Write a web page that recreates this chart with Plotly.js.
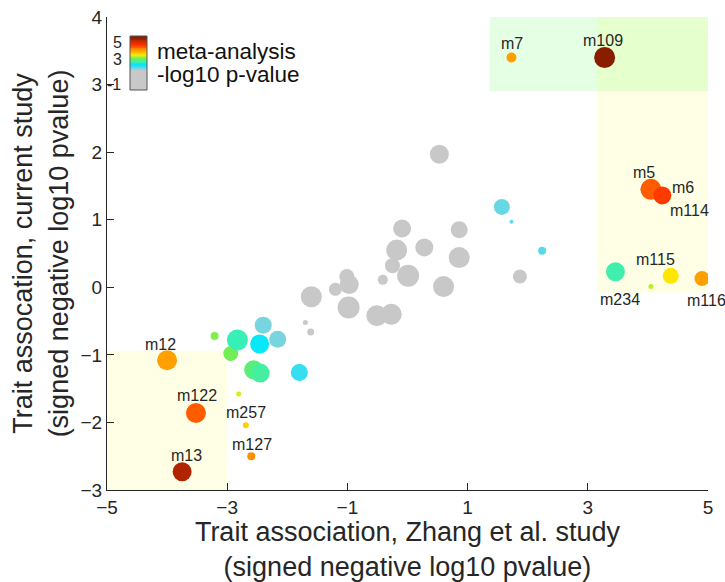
<!DOCTYPE html>
<html>
<head>
<meta charset="utf-8">
<script src="https://cdn.plot.ly/plotly-3.0.1.min.js"></script>
<style>html,body{margin:0;padding:0;background:#fff;}#chart{width:725px;height:582px;}</style>
</head>
<body>
<div id="chart"></div>
<script>
// ---- data ----
const pointNames = ["","","","","","","","","","","","","","","","","","","","",
  "","","","","","","","","","","","","","m257","m127","m12","m122","m13","m7","m109","m5","m6","m234","m115","","m116"];
const zhangX = [0.53,1.87,-0.09,0.86,-0.18,0.28,0.86,-0.25,0.01,-0.41,0.60,-1.01,-0.97,-1.20,-1.60,-0.98,-0.51,-0.27,-1.70,-1.61,
  1.57,1.73,2.24,-2.40,-3.21,-2.94,-2.83,-2.46,-2.16,-2.56,-2.45,-1.80,-2.81,-2.69,-2.60,-4.00,-3.52,-3.75,1.73,3.28,4.05,4.24,3.46,4.38,4.05,4.90];
const currentY = [1.97,0.16,0.87,0.85,0.55,0.59,0.44,0.32,0.17,0.11,0.01,0.16,0.04,-0.03,-0.14,-0.30,-0.42,-0.40,-0.52,-0.66,
  1.19,0.97,0.54,-0.56,-0.72,-0.98,-0.78,-0.84,-0.77,-1.22,-1.27,-1.26,-1.58,-2.04,-2.50,-1.08,-1.86,-2.73,3.40,3.40,1.45,1.36,0.23,0.17,0.01,0.13];
const bubbleSize = [19,14,18,17,21,18,21,15,22,10,21,15,19,13,21,22,21,21,5,7,
  16,4,8,17,8,15,21,19,17,19,19,17,5,6,8,20,20,19,10,21,21,18,19,16,5,15];
const metaP = [0.5,0.5,0.5,0.5,0.5,0.5,0.5,0.5,0.5,0.5,0.5,0.5,0.5,0.5,0.5,0.5,0.5,0.5,0.5,0.5,
  1.45,1.45,1.5,1.4,2.55,2.5,2.1,1.8,1.4,2.35,2.2,1.6,2.8,3.1,3.5,3.4,3.8,4.6,3.4,4.9,3.8,4.0,2.15,2.95,2.7,3.4];
// extra label that shares the m6 position
const extraLabels = ["m114"];
const cbTicks = ["5","3","-1"];
const legendLines = ["meta-analysis","-log10 p-value"];
const cbValues = [];
for (let v = -1; v <= 5.0001; v += 0.1) cbValues.push(Math.round(v*10)/10);

// ---- styles ----
const FONT = "Liberation Sans, Arial, Helvetica, sans-serif";
const TXT = "#262626";
const cscale = [[0,'#c8c8c8'],[0.36,'#c8c8c8'],[0.46,'#00e6ff'],[0.52,'#3cefb4'],[0.58,'#6aee5a'],
  [0.65,'#ffee00'],[0.74,'#ff9900'],[0.84,'#ff3300'],[1,'#7a1a00']];
const labelShift = {m257:[0,13], m127:[1,12], m12:[-7,16], m122:[1,17], m13:[4,16], m7:[1,14],
  m109:[-2,17], m5:[-7,17], m6:[21,8], m234:[5,-28], m115:[-15,16], m116:[5,-22]};

const scatter = {
  type: 'scatter', mode: 'markers', x: zhangX, y: currentY, text: pointNames,
  hoverinfo: 'x+y+text', showlegend: false,
  marker: {size: bubbleSize, sizemode: 'diameter', color: metaP, colorscale: cscale,
    cmin: -1, cmax: 5, showscale: false, opacity: 1, line: {width: 0}}
};
const cbar = {
  type: 'heatmap', x: [0], y: cbValues, z: cbValues.map(v => [v]),
  colorscale: cscale, zmin: -1, zmax: 5, showscale: false, hoverinfo: 'skip',
  xaxis: 'x2', yaxis: 'y2'
};

const annotations = [];
pointNames.forEach((n, i) => {
  if (!n) return;
  const s = labelShift[n] || [0, 14];
  annotations.push({x: zhangX[i], y: currentY[i], xref: 'x', yref: 'y', text: n, showarrow: false,
    xanchor: 'center', yanchor: 'middle',
    xshift: s[0], yshift: s[1], font: {family: FONT, size: 16, color: TXT}});
});
const m6i = pointNames.indexOf('m6');
annotations.push({x: zhangX[m6i], y: currentY[m6i], xref: 'x', yref: 'y', text: extraLabels[0], showarrow: false,
  xanchor: 'center', yanchor: 'middle',
  xshift: 27, yshift: -15, font: {family: FONT, size: 16, color: TXT}});
// colorbar tick labels
const cbLabelPos = [[117, 42], [117, 59], [114, 84]];
const px2x = p => (p - 107) / 601, px2y = p => (490 - p) / 473;
cbTicks.forEach((t, i) => annotations.push({x: px2x(cbLabelPos[i][0]), y: px2y(cbLabelPos[i][1]), xref: 'paper', yref: 'paper',
  xanchor: 'center', yanchor: 'middle',
  text: t, showarrow: false, font: {family: FONT, size: 16, color: TXT}}));
const legPos = [[155, 52], [155, 74]];
legendLines.forEach((t, i) => annotations.push({x: px2x(legPos[i][0]), y: px2y(legPos[i][1]), xref: 'paper', yref: 'paper',
  text: t, showarrow: false, xanchor: 'left', yanchor: 'middle', font: {family: FONT, size: 22.5, color: '#111'}}));

const shapes = [
  {type: 'rect', xref: 'x', yref: 'y', x0: 3.15, x1: 5, y0: -0.08, y1: 4, fillcolor: 'rgba(255,255,0,0.1)', line: {width: 0}, layer: 'below'},
  {type: 'rect', xref: 'x', yref: 'y', x0: 1.37, x1: 5, y0: 2.9, y1: 4, fillcolor: 'rgba(0,255,0,0.1)', line: {width: 0}, layer: 'below'},
  {type: 'rect', xref: 'x', yref: 'y', x0: -5, x1: -3, y0: -3, y1: -0.94, fillcolor: 'rgba(255,255,0,0.1)', line: {width: 0}, layer: 'below'},
  {type: 'rect', xref: 'paper', yref: 'paper', x0: px2x(130), x1: px2x(147), y0: px2y(90), y1: px2y(36), line: {color: '#555', width: 1}}
];

const axisBase = {showline: true, linecolor: TXT, linewidth: 1, ticks: 'inside', ticklen: 7, tickcolor: TXT,
  showgrid: false, zeroline: false, tickfont: {family: FONT, size: 19, color: TXT}};

const layout = {
  width: 725, height: 582, margin: {l: 107, r: 17, t: 17, b: 92},
  paper_bgcolor: '#fff', plot_bgcolor: '#fff',
  xaxis: Object.assign({}, axisBase, {range: [-5, 5], tickvals: [-5, -3, -1, 1, 3, 5],
    title: {text: 'Trait association, Zhang et al. study<br>(signed negative log10 pvalue)', font: {family: FONT, size: 27, color: TXT}, standoff: 1}}),
  yaxis: Object.assign({}, axisBase, {range: [-3, 4], dtick: 1,
    title: {text: 'Trait assocation, current study<br>(signed negative log10 pvalue)', font: {family: FONT, size: 27, color: TXT}, standoff: 4}}),
  xaxis2: {domain: [px2x(130), px2x(147)], range: [-0.5, 0.5], anchor: 'y2', visible: false, fixedrange: true},
  yaxis2: {domain: [px2y(90), px2y(36)], range: [-1.05, 5.05], anchor: 'x2', visible: false, fixedrange: true},
  shapes: shapes, annotations: annotations, showlegend: false,
  font: {family: FONT, color: TXT}
};

Plotly.newPlot('chart', [scatter, cbar], layout, {displayModeBar: false, staticPlot: true});
</script>
</body>
</html>
